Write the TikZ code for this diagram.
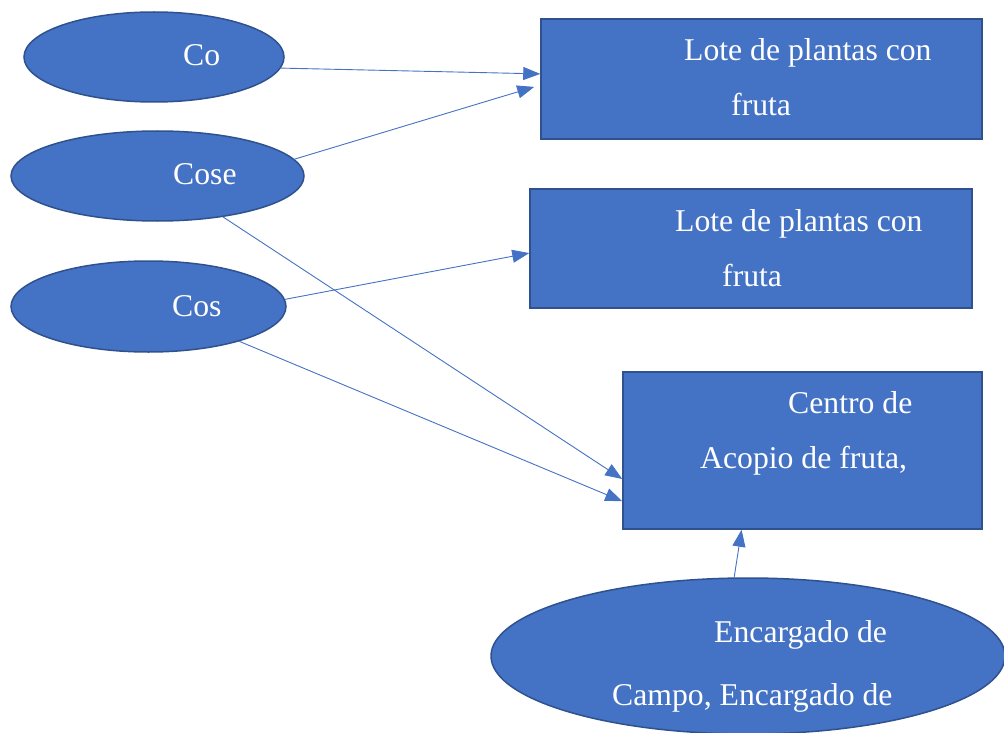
\documentclass[tikz,border=0pt]{standalone}
\usepackage{fontspec}
\setmainfont{Liberation Serif}
\usetikzlibrary{arrows.meta,shapes.geometric,calc}
\definecolor{boxfill}{HTML}{4472C4}
\definecolor{boxline}{HTML}{2F528F}
\definecolor{conn}{HTML}{4472C4}
\tikzset{
  oval/.style={ellipse,draw=boxline,fill=boxfill,line width=1.5pt,inner sep=0pt},
  box/.style={rectangle,draw=boxline,fill=boxfill,line width=1.5pt,inner sep=0pt},
  lbl/.style={anchor=base west,inner sep=0pt,text=white,font=\fontsize{31.7}{36}\selectfont},
  conn/.style={draw=conn,line width=0.9pt,-{Triangle[length=17pt,width=13pt]}}
}
\begin{document}
\begin{tikzpicture}[x=1pt,y=-1pt]
\useasboundingbox (0,0) rectangle (1004,733);
% shapes
\node[oval,minimum width=260pt,minimum height=90pt] (co) at (154,57) {};
\node[oval,minimum width=293pt,minimum height=90pt] (cose) at (157.5,176) {};
\node[oval,minimum width=275pt,minimum height=91pt] (cos) at (148.5,306.5) {};
\node[box,minimum width=441pt,minimum height=120pt] (r1) at (761.5,79) {};
\node[box,minimum width=442pt,minimum height=119pt] (r2) at (751,248.5) {};
\node[box,minimum width=359pt,minimum height=157pt] (r3) at (802.5,450.5) {};
\node[oval,minimum width=514pt,minimum height=156pt] (enc) at (748,656) {};
% texts
\node[lbl] (tco) at (183,66) {Co};
\node[lbl] (tcose) at (173,185) {Cose};
\node[lbl] (tcos) at (172,316) {Cos};
\node[lbl] (t1a) at (684,61) {Lote de plantas con};
\node[lbl] (t1b) at (731,116) {fruta};
\node[lbl] (t2a) at (675,231) {Lote de plantas con};
\node[lbl] (t2b) at (722,286) {fruta};
\node[lbl] (t3a) at (788,413) {Centro de};
\node[lbl] (t3b) at (700,468) {Acopio de fruta,};
\node[lbl] (t4a) at (714,642) {Encargado de};
\node[lbl] (t4b) at (612,705) {Campo, Encargado de};
% connectors
\draw[conn] (co.-5) -- ($(r1.north west)!0.458!(r1.south west)$);
\draw[conn,shorten >=6.3pt] (cose.7) -- ($(r1.north west)!0.55!(r1.south west)$);
\draw[conn] (cose.-32) -- ($(r3.north west)!0.68!(r3.south west)$);
\draw[conn] (cos.3.5) -- ($(r2.north west)!0.538!(r2.south west)$);
\draw[conn] (cos.-21) -- ($(r3.north west)!0.82!(r3.south west)$);
\draw[conn] (enc.100) -- ($(r3.south west)!0.331!(r3.south east)$);
\end{tikzpicture}
\end{document}
